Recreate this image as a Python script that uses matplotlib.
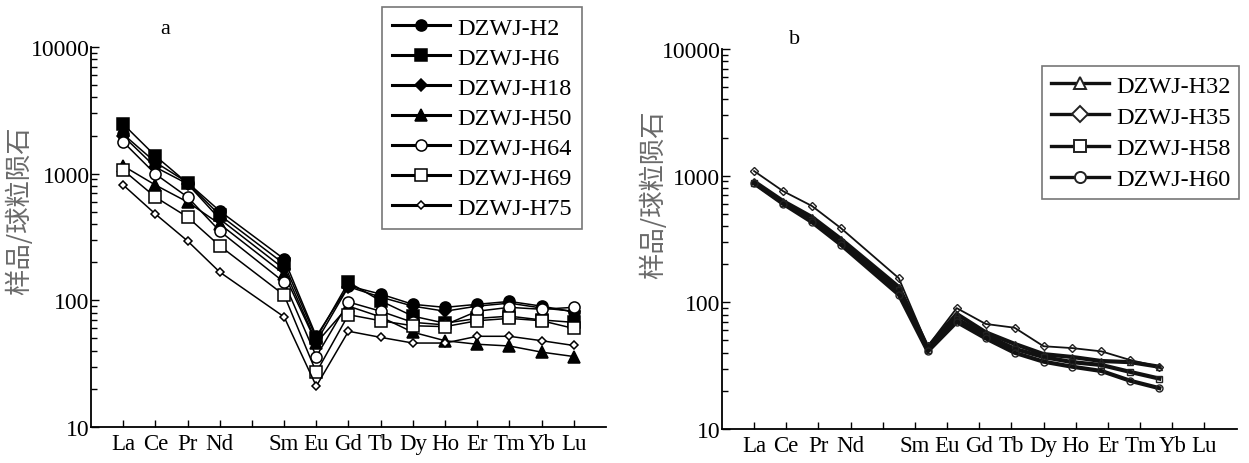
import matplotlib
matplotlib.use("Agg")
import matplotlib.pyplot as plt
from matplotlib.ticker import FixedLocator, LogLocator, NullFormatter, FixedFormatter

# chondrite-normalised REE patterns, Pm left out
ree = ['La', 'Ce', 'Pr', 'Nd', 'Sm', 'Eu', 'Gd', 'Tb', 'Dy', 'Ho', 'Er', 'Tm', 'Yb', 'Lu']
tick_labels = ['La', 'Ce', 'Pr', 'Nd', '', 'Sm', 'Eu', 'Gd', 'Tb', 'Dy', 'Ho', 'Er', 'Tm', 'Yb', 'Lu']
slot = [1, 2, 3, 4, 6, 7, 8, 9, 10, 11, 12, 13, 14, 15]

# group a
h2 = [2050, 1230, 850, 507, 212, 52, 130, 112, 93, 88, 93, 98, 90, 81]
h6 = [2460, 1380, 840, 471, 194, 50, 139, 99, 75, 66, 72, 75, 70, 67]
h18 = [1980, 1125, 830, 438, 177, 47, 128, 106, 90, 82, 90, 95, 87, 82]
h50 = [1150, 813, 597, 400, 161, 46, 90, 74, 56, 48, 45, 43.6, 39, 36]
h64 = [1778, 993, 653, 352, 139, 36, 97, 82, 67, 64, 82, 88, 85, 88]
h69 = [1066, 653, 454, 269, 110, 27, 77, 69, 63, 62, 69, 72, 69, 60]
h75 = [813, 480, 294, 167, 74, 21, 57, 51, 46, 46, 52, 52, 48, 44]

# group b
h32 = [900, 630, 471, 316, 132, 44, 81, 58, 47, 39, 37, 34.4, 33.7, 31]
h35 = [1087, 755, 576, 385, 155, 45, 90, 67.5, 63, 45, 43.5, 41, 35, 31]
h58 = [880, 610, 450, 300, 125, 42, 74, 55, 43, 37, 33.7, 32, 28.2, 25]
h60 = [870, 600, 430, 285, 115, 41, 70, 52, 40, 34, 31, 28.7, 24, 21]

SERIF = 'Liberation Serif'
CJK = ['Noto Sans CJK SC', 'DejaVu Sans']

fig = plt.figure(figsize=(12.49, 4.64), dpi=100)
ax_a = fig.add_axes([0.0729, 0.0776, 0.4122, 0.819])
ax_b = fig.add_axes([0.578, 0.0733, 0.412, 0.819])


def style_axes(ax, label_xy):
    ax.set_yscale('log')
    ax.set_ylim(10, 10000)
    ax.set_xlim(0, 16)
    for side in ('top', 'right'):
        ax.spines[side].set_visible(False)
    for side in ('left', 'bottom'):
        ax.spines[side].set_linewidth(1.3)
    ax.xaxis.set_major_locator(FixedLocator(range(1, 16)))
    ax.set_xticklabels(tick_labels, fontfamily=SERIF, fontsize=16.5)
    ax.yaxis.set_major_locator(FixedLocator([10, 100, 1000, 10000]))
    ax.yaxis.set_major_formatter(FixedFormatter(['10', '100', '1000', '10000']))
    ax.yaxis.set_minor_locator(LogLocator(base=10, subs=range(2, 10)))
    ax.yaxis.set_minor_formatter(NullFormatter())
    ax.tick_params(axis='both', which='both', direction='in', colors='black')
    ax.tick_params(axis='x', length=5, width=1, pad=4)
    ax.tick_params(axis='y', which='major', length=6, width=1, pad=1)
    ax.tick_params(axis='y', which='minor', length=4, width=1)
    for lab in ax.get_yticklabels():
        lab.set_fontfamily(SERIF)
        lab.set_fontsize(17)
    ax.set_ylabel('样品/球粒陨石', family=CJK, fontsize=19, color='#6a6a6a')
    ax.yaxis.set_label_coords(*label_xy)


style_axes(ax_a, (-0.112, 0.571))
style_axes(ax_b, (-0.107, 0.618))

# panel a
series_a = [
    ('DZWJ-H2', h2, 'o', 'black', 8),
    ('DZWJ-H6', h6, 's', 'black', 8),
    ('DZWJ-H18', h18, 'D', 'black', 6),
    ('DZWJ-H50', h50, '^', 'black', 8),
    ('DZWJ-H64', h64, 'o', 'white', 8),
    ('DZWJ-H69', h69, 's', 'white', 8),
    ('DZWJ-H75', h75, 'D', 'white', 4.5),
]
for name, vals, mk, face, ms in series_a:
    ax_a.plot(slot, vals, color='black', lw=1.1, marker=mk, ms=ms,
              mfc=face, mec='black', mew=1.1, label=name)

leg_a = ax_a.legend(loc='upper left', bbox_to_anchor=(382 / 1249, 1 - 8 / 464),
                    bbox_transform=fig.transFigure, prop={'family': SERIF, 'size': 17.5},
                    frameon=True, fancybox=False, handlelength=2.4, handletextpad=0.3,
                    labelspacing=0.33, borderpad=0.4, borderaxespad=0)
leg_a.get_frame().set_edgecolor('#555555')
leg_a.get_frame().set_linewidth(1.2)
for line in leg_a.get_lines():
    line.set_linewidth(2.2)

fig.text(165 / 1249, 1 - 30 / 464, 'a', fontfamily=SERIF, fontsize=16, ha='center', va='center')

# panel b: samples plotted on a compressed spacing
spacing_b = 0.9
slot_b = [1 + spacing_b * (s - 1) for s in slot]
series_b = [
    ('DZWJ-H32', h32, '^', 3.0, 5),
    ('DZWJ-H35', h35, 'D', 1.3, 4),
    ('DZWJ-H58', h58, 's', 3.0, 5),
    ('DZWJ-H60', h60, 'o', 3.0, 5),
]
for name, vals, mk, lw, ms in series_b:
    ax_b.plot(slot_b, vals, color='#111111', lw=lw, marker=mk, ms=ms,
              mfc='none', mec='#222222', mew=1.0, label=name)

leg_b = ax_b.legend(loc='upper left', bbox_to_anchor=(1042 / 1249, 1 - 67 / 464),
                    bbox_transform=fig.transFigure, prop={'family': SERIF, 'size': 17.5},
                    frameon=True, fancybox=False, handlelength=2.4, handletextpad=0.3,
                    labelspacing=0.38, borderpad=0.35, borderaxespad=0)
leg_b.get_frame().set_edgecolor('#555555')
leg_b.get_frame().set_linewidth(1.2)
for line in leg_b.get_lines():
    line.set_linewidth(2.4)
    line.set_markersize(8)
    line.set_markerfacecolor('white')
    line.set_markeredgewidth(1.4)

fig.text(795 / 1249, 1 - 40 / 464, 'b', fontfamily=SERIF, fontsize=16, ha='center', va='center')

fig.savefig('out.png', dpi=100, facecolor='white')
